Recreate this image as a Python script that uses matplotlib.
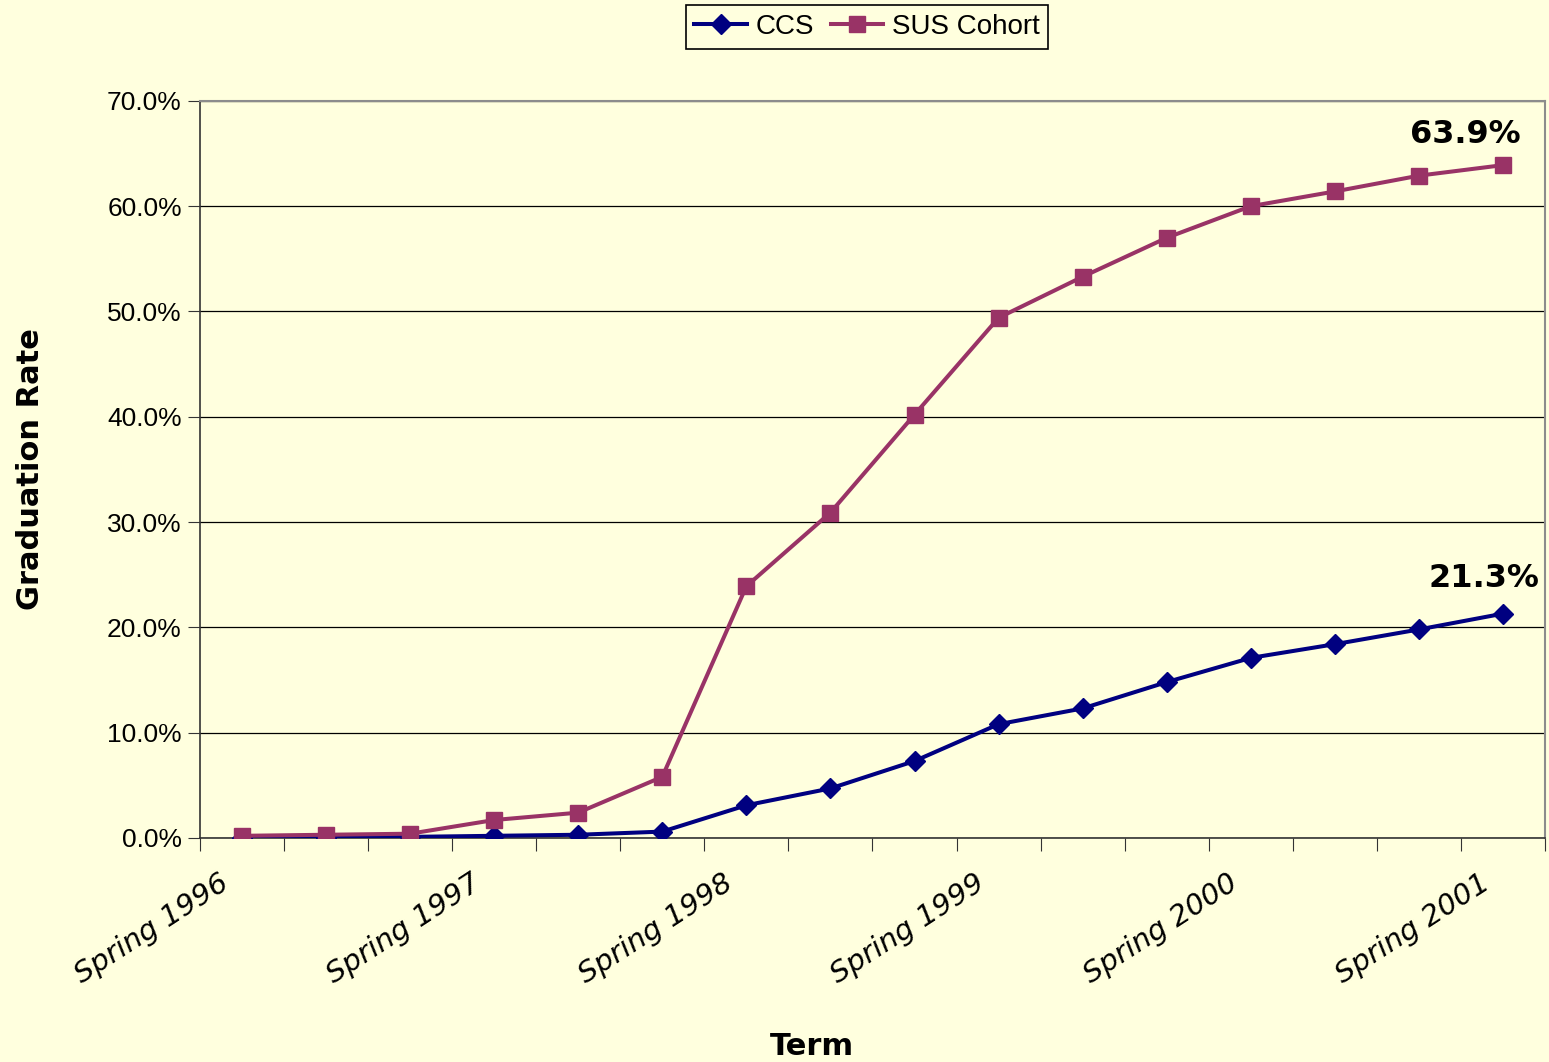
import numpy as np
import matplotlib.pyplot as plt
from matplotlib.ticker import FixedLocator, PercentFormatter

# Cumulative graduation rate by term (%)
terms = ["Spring 1996", "Summer 1996", "Fall 1996",
         "Spring 1997", "Summer 1997", "Fall 1997",
         "Spring 1998", "Summer 1998", "Fall 1998",
         "Spring 1999", "Summer 1999", "Fall 1999",
         "Spring 2000", "Summer 2000", "Fall 2000",
         "Spring 2001"]
ccs = [0.0, 0.0, 0.1, 0.2, 0.3, 0.6, 3.1, 4.7, 7.3, 10.8,
       12.3, 14.8, 17.1, 18.4, 19.8, 21.3]
sus = [0.2, 0.3, 0.4, 1.7, 2.4, 5.8, 23.9, 30.9, 40.2, 49.4,
       53.3, 57.0, 60.0, 61.4, 62.9, 63.9]

bg = "#FFFFDE"
fig = plt.figure(figsize=(15.49, 10.62), dpi=100, facecolor=bg)
ax = fig.add_axes([0.129, 0.211, 0.8685, 0.694], facecolor=bg)

x = np.arange(len(terms))
ax.plot(x, ccs, color="#000080", lw=2.9, marker="D", ms=10.5,
        label="CCS", zorder=3)
ax.plot(x, sus, color="#993366", lw=2.9, marker="s", ms=11.5,
        label="SUS Cohort", zorder=3)

# value labels on the last term
ax.annotate(f"{sus[-1]:.1f}%", (x[-1], sus[-1]), xytext=(-27, 11),
            textcoords="offset points", ha="center", va="bottom",
            fontsize=23, fontweight="bold", family="DejaVu Sans")
ax.annotate(f"{ccs[-1]:.1f}%", (x[-1], ccs[-1]), xytext=(-14, 14),
            textcoords="offset points", ha="center", va="bottom",
            fontsize=23, fontweight="bold", family="DejaVu Sans")

ax.set_xlim(-0.5, len(terms) - 0.5)
ax.set_ylim(0, 70)
ax.yaxis.set_major_locator(FixedLocator(np.arange(0, 71, 10)))
ax.yaxis.set_major_formatter(PercentFormatter(decimals=1))
ax.grid(axis="y", color="black", lw=0.9)
ax.set_axisbelow(True)

# ticks between categories, labels every third term
ax.set_xticks(np.arange(-0.5, len(terms), 1.0))
ax.set_xticklabels([])
for xi in x[::3]:
    ax.annotate(terms[xi], (xi, 0), xytext=(-17, -22),
                textcoords="offset points", rotation=33, ha="right",
                va="top", rotation_mode="anchor", fontsize=21,
                style="italic", family="DejaVu Sans",
                annotation_clip=False)
ax.tick_params(axis="x", which="major", direction="out", length=9,
               color="#333333")
ax.tick_params(axis="y", direction="out", length=9, color="#333333",
               labelsize=19, pad=4)
for lab in ax.get_yticklabels():
    lab.set_family("Liberation Sans")

for s in ["left", "bottom"]:
    ax.spines[s].set_color("#333333")
    ax.spines[s].set_linewidth(1.2)
for s in ["top", "right"]:
    ax.spines[s].set_color("#8C8C8C")
    ax.spines[s].set_linewidth(1.5)

ax.set_ylabel("Graduation Rate", fontsize=22, fontweight="bold",
              family="DejaVu Sans")
ax.set_xlabel("Term", fontsize=22, fontweight="bold",
              family="DejaVu Sans")
ax.yaxis.set_label_coords(-0.115, 0.5)
ax.xaxis.set_label_coords(0.455, -0.263)

leg = fig.legend(loc="upper center", bbox_to_anchor=(0.5597, 0.995),
                 ncol=2, frameon=True, fancybox=False,
                 edgecolor="black", facecolor=bg, framealpha=1,
                 handlelength=1.9, columnspacing=0.6, handletextpad=0.3,
                 borderpad=0.32, borderaxespad=0.0,
                 prop={"family": "Liberation Sans", "size": 20})
leg.get_frame().set_linewidth(1.2)

fig.savefig("out.png", dpi=100, facecolor=bg)
